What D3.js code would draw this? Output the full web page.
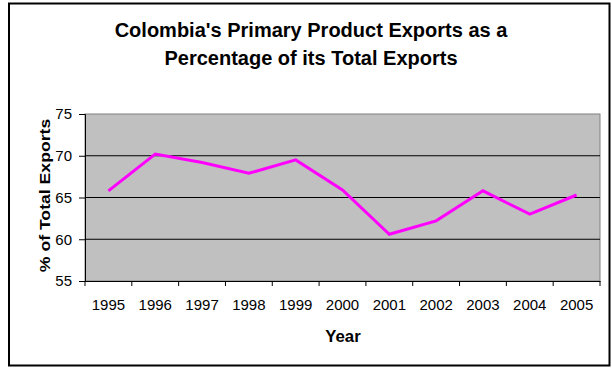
<!DOCTYPE html>
<html><head><meta charset="utf-8">
<script src="https://cdn.jsdelivr.net/npm/d3@7"></script>
<style>body{margin:0;background:#fff;}svg{display:block;font-family:"Liberation Sans",Arial,sans-serif;}</style>
</head><body>
<svg id="c" width="612" height="369"></svg>
<script>
const years = ["1995","1996","1997","1998","1999","2000","2001","2002","2003","2004","2005"];
const values = [65.8, 70.2, 69.2, 67.9, 69.5, 65.9, 60.6, 62.2, 65.8, 63.0, 65.3];
const yTicks = [55, 60, 65, 70, 75];
const titleLines = ["Colombia's Primary Product Exports as a", "Percentage of its Total Exports"];

const svg = d3.select("#c");
const L = 85, R = 600, T = 114, B = 281;

svg.append("rect").attr("x", 9).attr("y", 3.5).attr("width", 600.5).attr("height", 362)
  .attr("fill", "#fff").attr("stroke", "#000").attr("stroke-width", 2);

const x = d3.scaleBand().domain(years).range([L, R]).padding(0);
const y = d3.scaleLinear().domain([55, 75]).range([B, T]);

svg.append("rect").attr("x", L).attr("y", T).attr("width", R - L).attr("height", B - T)
  .attr("fill", "#c0c0c0").attr("stroke", "#808080").attr("stroke-width", 1);

svg.append("g").selectAll("line").data(yTicks.filter(d => d > 55 && d < 75)).join("line")
  .attr("x1", L).attr("x2", R).attr("y1", d => y(d)).attr("y2", d => y(d))
  .attr("stroke", "#000").attr("stroke-width", 1);

const yAxis = svg.append("g").attr("transform", `translate(${L},0)`)
  .call(d3.axisLeft(y).tickValues(yTicks).tickSize(6).tickPadding(7));
yAxis.select(".domain").attr("stroke", "#000");
yAxis.selectAll("text").attr("font-size", 15).attr("fill", "#000").attr("font-family", "Liberation Sans, Arial, sans-serif");

const xAxis = svg.append("g").attr("transform", `translate(0,${B})`)
  .call(d3.axisBottom(x).tickSize(0).tickPadding(18.5));
xAxis.select(".domain").attr("stroke", "#000");
xAxis.selectAll("text").attr("font-size", 15).attr("fill", "#000").attr("font-family", "Liberation Sans, Arial, sans-serif");
svg.append("g").selectAll("line").data(years.concat(["end"])).join("line")
  .attr("x1", (d, i) => L + i * x.bandwidth()).attr("x2", (d, i) => L + i * x.bandwidth())
  .attr("y1", B).attr("y2", B + 5).attr("stroke", "#000");

const line = d3.line().x((d, i) => x(years[i]) + x.bandwidth() / 2).y(d => y(d));
svg.append("path").datum(values).attr("d", line).attr("fill", "none")
  .attr("stroke", "#ff00ff").attr("stroke-width", 3).attr("stroke-linejoin", "miter");

svg.append("g").selectAll("text").data(titleLines).join("text")
  .attr("x", 311).attr("y", (d, i) => 37 + i * 28).attr("text-anchor", "middle")
  .attr("font-size", 20).attr("font-weight", "bold").text(d => d);

svg.append("text").attr("transform", "translate(50,195.5) rotate(-90) scale(1.26,1)").attr("text-anchor", "middle")
  .attr("font-size", 14).attr("font-weight", "bold").text("% of Total Exports");

svg.append("text").attr("x", 343).attr("y", 341.5).attr("text-anchor", "middle")
  .attr("font-size", 16.8).attr("font-weight", "bold").text("Year");
</script>
</body></html>
